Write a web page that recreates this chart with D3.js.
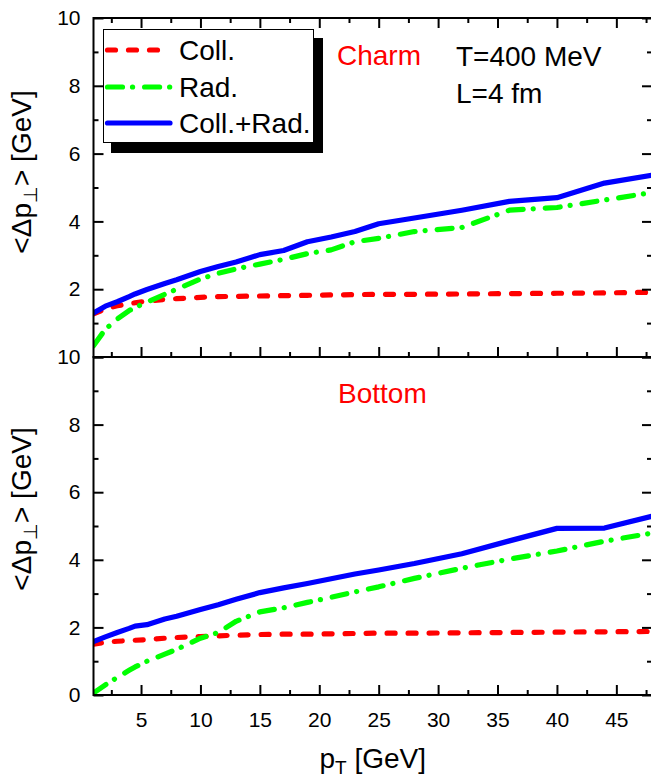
<!DOCTYPE html>
<html>
<head>
<meta charset="utf-8">
<script src="https://cdn.jsdelivr.net/npm/d3@7/dist/d3.min.js"></script>
<style>
  html, body { margin: 0; padding: 0; background: #fff; }
  svg { display: block; }
  text { font-family: "Liberation Sans", Arial, Helvetica, sans-serif; fill: #000; }
</style>
</head>
<body>
<svg id="chart" width="651" height="779"></svg>
<script>
// Transverse momentum grid shared by all curves [GeV]
const pT = [1, 2, 3, 4, 4.5, 5.5, 7, 8, 10, 11.5, 13, 15, 17, 19, 21, 23, 25, 28, 32, 36, 40, 44, 48];

// Charm quark, <Δp⊥> [GeV]
const charmColl = [1.27, 1.42, 1.51, 1.57, 1.60, 1.65, 1.70, 1.72, 1.76, 1.78, 1.79, 1.80, 1.81, 1.82, 1.83, 1.84, 1.85, 1.85, 1.86, 1.87, 1.88, 1.89, 1.91];
const charmRad  = [0.33, 0.82, 1.12, 1.37, 1.46, 1.62, 1.85, 2.00, 2.30, 2.47, 2.60, 2.74, 2.88, 3.05, 3.16, 3.40, 3.50, 3.70, 3.82, 4.33, 4.41, 4.63, 4.85];
const charmTot  = [1.30, 1.50, 1.63, 1.78, 1.86, 1.99, 2.17, 2.28, 2.52, 2.67, 2.80, 3.02, 3.14, 3.40, 3.54, 3.70, 3.93, 4.10, 4.33, 4.59, 4.70, 5.13, 5.36];

// Bottom quark, <Δp⊥> [GeV]
const bottomColl = [1.50, 1.56, 1.59, 1.61, 1.62, 1.64, 1.68, 1.70, 1.73, 1.75, 1.77, 1.79, 1.80, 1.80, 1.81, 1.82, 1.83, 1.83, 1.84, 1.85, 1.86, 1.87, 1.88];
const bottomRad  = [0.06, 0.30, 0.52, 0.73, 0.83, 1.00, 1.21, 1.35, 1.68, 1.85, 2.18, 2.46, 2.58, 2.74, 2.89, 3.05, 3.20, 3.45, 3.75, 4.02, 4.26, 4.55, 4.79];
const bottomTot  = [1.58, 1.72, 1.85, 1.97, 2.04, 2.08, 2.25, 2.33, 2.53, 2.67, 2.83, 3.03, 3.17, 3.30, 3.44, 3.58, 3.70, 3.89, 4.18, 4.56, 4.93, 4.94, 5.29];

// Axis ticks
const xMajor = [5, 10, 15, 20, 25, 30, 35, 40, 45];
const xMinor = [2.5, 7.5, 12.5, 17.5, 22.5, 27.5, 32.5, 37.5, 42.5, 47.5];
const yMajor = [0, 2, 4, 6, 8, 10];
const yMinor = [1, 3, 5, 7, 9];

const seriesNames = ["Coll.", "Rad.", "Coll.+Rad."];
const panelNames = ["Charm", "Bottom"];

const styles = [
  { color: "#ff0000", dash: "8,13" },
  { color: "#00ff00", dash: "15,10,0.1,12" },
  { color: "#0000ff", dash: null }
];

const svg = d3.select("#chart");
const left = 93.5, right = 652;
const x = d3.scaleLinear().domain([1, 48]).range([left, right]);

const panels = [
  { name: panelNames[0], series: [charmColl, charmRad, charmTot], top: 18, bottom: 357 },
  { name: panelNames[1], series: [bottomColl, bottomRad, bottomTot], top: 357, bottom: 695 }
];

const line = (y) => d3.line().x((d, i) => x(pT[i])).y(d => y(d));

panels.forEach((p, pi) => {
  const y = d3.scaleLinear().domain([0, 10]).range([p.bottom, p.top]);

  const clipId = "clip" + pi;
  svg.append("clipPath").attr("id", clipId)
    .append("rect").attr("x", left).attr("y", p.top)
    .attr("width", right - left).attr("height", p.bottom - p.top);

  // curves
  const g = svg.append("g").attr("clip-path", `url(#${clipId})`);
  p.series.forEach((vals, si) => {
    g.append("path")
      .datum(vals)
      .attr("d", line(y))
      .attr("fill", "none")
      .attr("stroke", styles[si].color)
      .attr("stroke-width", 5.2)
      .attr("stroke-linecap", "round")
      .attr("stroke-linejoin", "round")
      .attr("stroke-dasharray", styles[si].dash);
  });

  // inward ticks on all four sides
  const axisStyle = (sel) => {
    sel.select(".domain").remove();
    sel.selectAll("line").attr("stroke", "#000").attr("stroke-width", 2);
    sel.selectAll("text").style("font-size", "21px").style("font-family", '"Liberation Sans", Arial, sans-serif');
  };
  const tickAxis = (axisFn, scale, values, size, transform, labels) => {
    const a = axisFn(scale).tickValues(values).tickSizeInner(-size).tickSizeOuter(0);
    if (!labels) a.tickFormat("");
    return svg.append("g").attr("transform", transform).call(a).call(axisStyle);
  };

  // bottom x axis of the panel
  const xb = tickAxis(d3.axisBottom, x, xMajor, 10, `translate(0,${p.bottom})`, pi === 1);
  if (pi === 1) xb.call(a => a.selectAll("text").attr("y", 17.5));
  tickAxis(d3.axisBottom, x, xMinor, 5, `translate(0,${p.bottom})`, false);
  if (pi === 0) {
    tickAxis(d3.axisTop, x, xMajor, 10, `translate(0,${p.top})`, false);
    tickAxis(d3.axisTop, x, xMinor, 5, `translate(0,${p.top})`, false);
  }

  // left y axis
  const yLabels = pi === 0 ? yMajor.filter(v => v > 0) : yMajor;
  const ya = d3.axisLeft(y).tickValues(yMajor).tickSizeInner(-10).tickSizeOuter(0)
    .tickFormat(v => yLabels.includes(v) ? d3.format("d")(v) : "");
  svg.append("g").attr("transform", `translate(${left},0)`).call(ya).call(axisStyle)
    .call(a => a.selectAll("text").attr("x", -13));
  tickAxis(d3.axisLeft, y, yMinor, 5, `translate(${left},0)`, false);

  // right y axis
  tickAxis(d3.axisRight, y, yMajor, 10, `translate(${right},0)`, false);
  tickAxis(d3.axisRight, y, yMinor, 5, `translate(${right},0)`, false);

  // frame
  svg.append("rect")
    .attr("x", left).attr("y", p.top)
    .attr("width", right - left).attr("height", p.bottom - p.top)
    .attr("fill", "none").attr("stroke", "#000").attr("stroke-width", 2);

  // y-axis title
  const yt = svg.append("text")
    .attr("transform", `translate(31,${pi === 0 ? 172 : 509}) rotate(-90)`)
    .attr("text-anchor", "middle")
    .style("font-size", "28px");
  yt.append("tspan").text("<Δp");
  yt.append("tspan").attr("dy", 6).style("font-size", "19px").text("⊥");
  yt.append("tspan").attr("dy", -6).text("> [GeV]");

  // quark label
  svg.append("text")
    .attr("x", pi === 0 ? 337 : 338)
    .attr("y", pi === 0 ? 65 : 402.5)
    .style("font-size", "28px").style("fill", "#ff0000")
    .text(p.name);
});

// medium parameters
svg.append("text").attr("x", 456).attr("y", 66).style("font-size", "28px").text("T=400 MeV");
svg.append("text").attr("x", 456).attr("y", 103).style("font-size", "28px").text("L=4 fm");

// x-axis title
const xt = svg.append("text")
  .attr("x", (left + right) / 2).attr("y", 768)
  .attr("text-anchor", "middle")
  .style("font-size", "28px");
xt.append("tspan").text("p");
xt.append("tspan").attr("dy", 6).style("font-size", "19px").text("T");
xt.append("tspan").attr("dy", -6).text(" [GeV]");

// legend with drop shadow
const lg = svg.append("g");
lg.append("rect").attr("x", 111).attr("y", 38).attr("width", 212).attr("height", 115).attr("fill", "#000");
lg.append("rect").attr("x", 103.5).attr("y", 29.5).attr("width", 210).attr("height", 113)
  .attr("fill", "#fff").attr("stroke", "#000").attr("stroke-width", 1);
const legY = [50, 87, 123];
seriesNames.forEach((name, si) => {
  lg.append("line")
    .attr("x1", 107.5).attr("x2", si === 0 ? 160 : 170)
    .attr("y1", legY[si]).attr("y2", legY[si])
    .attr("stroke", styles[si].color).attr("stroke-width", 5.2)
    .attr("stroke-linecap", "round")
    .attr("stroke-dasharray", styles[si].dash);
  lg.append("text")
    .attr("x", 179).attr("y", legY[si] + 10)
    .style("font-size", "28px")
    .text(name);
});
</script>
</body>
</html>
